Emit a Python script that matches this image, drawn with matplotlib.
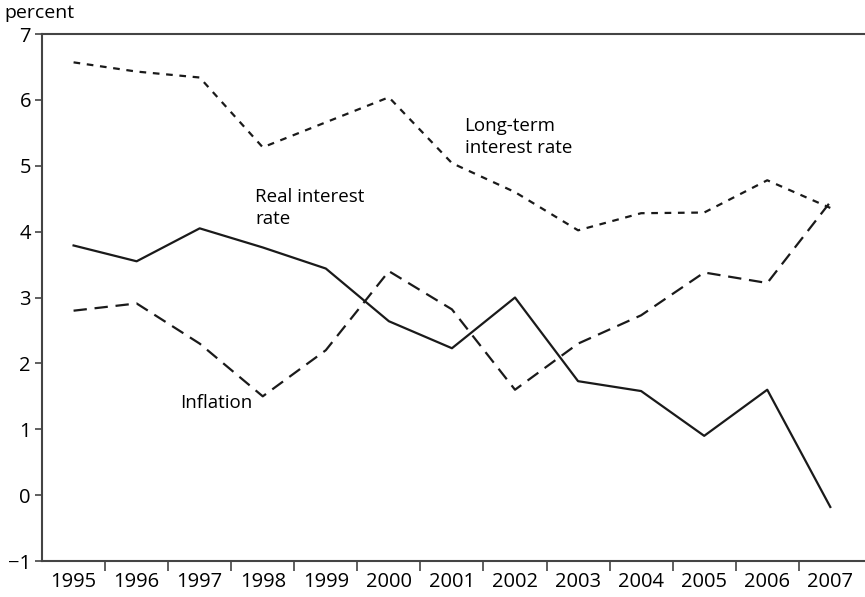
import matplotlib
matplotlib.use("Agg")
import matplotlib.pyplot as plt
from matplotlib.ticker import FixedLocator, NullFormatter

plt.rcParams['font.family'] = ['Open Sans', 'DejaVu Sans']

years = [1995, 1996, 1997, 1998, 1999, 2000, 2001, 2002, 2003, 2004, 2005, 2006, 2007]
long_term = [6.57, 6.43, 6.34, 5.28, 5.66, 6.04, 5.04, 4.60, 4.02, 4.28, 4.29, 4.78, 4.36]
inflation = [2.80, 2.91, 2.30, 1.50, 2.20, 3.40, 2.82, 1.60, 2.30, 2.73, 3.38, 3.22, 4.45]
real_rate = [3.79, 3.55, 4.05, 3.76, 3.44, 2.64, 2.23, 3.00, 1.73, 1.58, 0.90, 1.60, -0.18]
y_ticks = [-1, 0, 1, 2, 3, 4, 5, 6, 7]
y_labels = ['\u22121', '0', '1', '2', '3', '4', '5', '6', '7']

fig = plt.figure(figsize=(8.65, 5.97), dpi=100)
ax = fig.add_axes([0.0486, 0.0603, 0.9514, 0.8827])

lc = '#1a1a1a'
ax.plot(years, long_term, color=lc, lw=1.6, linestyle=(0, (3, 3)))
ax.plot(years, inflation, color=lc, lw=1.6, linestyle=(0, (6, 3.5)))
ax.plot(years, real_rate, color=lc, lw=1.6, linestyle='-')

ax.set_xlim(1994.5, 2007.55)
ax.set_ylim(-1, 7)

spc = '#444444'
for s in ['left', 'bottom', 'top']:
    ax.spines[s].set_color(spc)
    ax.spines[s].set_linewidth(1.5)
ax.spines['right'].set_visible(False)

ax.set_yticks(y_ticks)
ax.set_yticklabels(y_labels, fontsize=14.5)
ax.tick_params(axis='y', direction='out', length=5, width=1.2, color=spc, pad=3)

# x: major ticks at boundaries (no labels), labels at year centers
ax.xaxis.set_major_locator(FixedLocator([y + 0.5 for y in years[:-1]]))
ax.xaxis.set_major_formatter(NullFormatter())
ax.xaxis.set_minor_locator(FixedLocator(years))
ax.set_xticklabels([str(y) for y in years], minor=True, fontsize=14.5)
ax.tick_params(axis='x', which='minor', length=0, pad=8)
ax.tick_params(axis='x', which='major', direction='out', length=7, width=1.2, color=spc)

fig.text(0.005, 0.978, 'percent', fontsize=14, ha='left', va='center')

ax.text(2001.2, 5.44, 'Long-term\ninterest rate', fontsize=13.5, ha='left', va='center', linespacing=1.25)
ax.text(1997.88, 4.36, 'Real interest\nrate', fontsize=13.5, ha='left', va='center', linespacing=1.25)
ax.text(1996.69, 1.40, 'Inflation', fontsize=13.5, ha='left', va='center')

fig.savefig('out.png', dpi=100)
